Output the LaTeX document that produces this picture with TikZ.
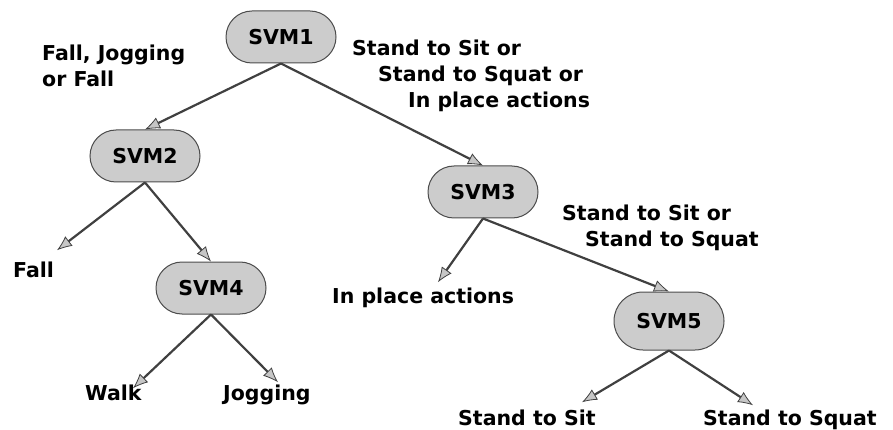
\documentclass[tikz,border=0pt]{standalone}
\usepackage{fontspec}
\setmainfont{DejaVu Sans}
\usetikzlibrary{calc,arrows.meta,shapes.misc}

\begin{document}
\begin{tikzpicture}[x=1pt,y=-1pt,
  every node/.style={font=\bfseries\fontsize{20.5}{26}\selectfont},
  svm/.style={rounded rectangle,draw=black!70,fill=gray!40,line width=1pt,
    minimum width=110pt,minimum height=52pt,inner sep=0pt},
  lbl/.style={anchor=base west,inner sep=0pt},
  lines/.style={anchor=north west,inner sep=0pt,align=left},
  arr/.style={draw=black!75,line width=2.2pt,
    -{Latex[length=15pt,width=12pt,fill=gray!45,line width=0.8pt]}}]
  \useasboundingbox (0,0) rectangle (893,430);

  %% The classifier nodes
  \node[svm] (svm1) at (281,37)  {SVM1};
  \node[svm] (svm2) at (145,156) {SVM2};
  \node[svm] (svm3) at (483,192) {SVM3};
  \node[svm] (svm4) at (211,288) {SVM4};
  \node[svm,minimum height=58pt] (svm5) at (669,321) {SVM5};

  %% Labels of the branches
  \node[lines] (left1) at (42,44.4) {Fall, Jogging\\or Fall};
  \node[lines] (right1) at (352,39.4)
    {Stand to Sit or\\\hspace*{26pt}Stand to Squat or\\\hspace*{56pt}In place actions};
  \node[lines] (right3) at (562,204.4) {Stand to Sit or\\\hspace*{23pt}Stand to Squat};

  %% Final classes
  \node[lbl] (fall)    at (13,277)  {Fall};
  \node[lbl] (inplace) at (332,303) {In place actions};
  \node[lbl] (walk)    at (85,400)  {Walk};
  \node[lbl] (jog)     at (223,400) {Jogging};
  \node[lbl] (sit)     at (458,425) {Stand to Sit};
  \node[lbl] (squat)   at (703,425) {Stand to Squat};

  %% Arrows between classifiers
  \foreach \a/\b in {svm1/svm2,svm1/svm3,svm2/svm4,svm3/svm5}
  {
    \draw[arr] (\a.south) -- (\b.north);
  }
  %% Arrows to the classes
  \foreach \a/\b/\dx/\dy in {svm2/fall/44/11,svm3/inplace/106/5,svm4/walk/48/-4,
                            svm4/jog/55/2,svm5/sit/124/7,svm5/squat/50/4}
  {
    \draw[arr] (\a.south) -- ([xshift=\dx pt,yshift=\dy pt]\b.north west);
  }
\end{tikzpicture}
\end{document}
